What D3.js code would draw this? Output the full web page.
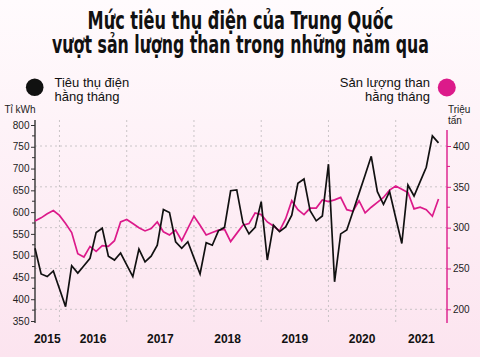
<!DOCTYPE html>
<html><head><meta charset="utf-8">
<script src="https://cdn.jsdelivr.net/npm/d3@7"></script>
<style>html,body{margin:0;padding:0;background:#fff;} svg{display:block;}</style>
</head><body>
<svg id="chart" width="480" height="357"></svg>
<script>
// ---- Data (monthly; Jan & Feb reported together) ----
const periods = [
  "8/2015","9/2015","10/2015","11/2015","12/2015",
  "1-2/2016","3/2016","4/2016","5/2016","6/2016","7/2016","8/2016","9/2016","10/2016","11/2016","12/2016",
  "1-2/2017","3/2017","4/2017","5/2017","6/2017","7/2017","8/2017","9/2017","10/2017","11/2017","12/2017",
  "1-2/2018","3/2018","4/2018","5/2018","6/2018","7/2018","8/2018","9/2018","10/2018","11/2018","12/2018",
  "1-2/2019","3/2019","4/2019","5/2019","6/2019","7/2019","8/2019","9/2019","10/2019","11/2019","12/2019",
  "1-2/2020","3/2020","4/2020","5/2020","6/2020","7/2020","8/2020","9/2020","10/2020","11/2020","12/2020",
  "1-2/2021","3/2021","4/2021","5/2021","6/2021","7/2021","8/2021"
];
// Power consumption, billion kWh (left axis)
const powerUse = [
  517,458,452,465,424,
  383,477,460,477,494,553,563,499,490,506,479,
  452,515,486,499,524,606,599,532,517,532,495,
  458,530,524,557,565,649,651,576,550,565,624,
  490,570,555,566,593,666,676,603,580,591,710,
  440,550,559,601,643,685,728,647,618,647,587,
  528,662,637,670,703,775,759
];
// Coal output, million tonnes (right axis)
const coalOutput = [
  308,312,317,321,315,
  305,294,268,264,277,271,278,277,284,307,310,
  305,300,296,299,307,295,291,297,284,299,314,
  303,291,294,297,298,283,293,303,305,318,316,
  307,302,296,311,333,322,316,324,324,334,332,
  334,337,322,320,333,318,325,331,337,346,351,
  347,343,323,325,322,314,335
];
const leftTicks = [350,400,450,500,550,600,650,700,750,800];
const leftMinor = [375,425,475,525,575,625,675,725,775];
const rightTicks = [200,250,300,350,400];
const rightMinor = [225,275,325,375];
const yearLabels = ["2015","2016","2017","2018","2019","2020","2021"];
const titleLines = ["Mức tiêu thụ điện của Trung Quốc","vượt sản lượng than trong những năm qua"];
const legendLeft = ["Tiêu thụ điện","hằng tháng"];
const legendRight = ["Sản lượng than","hằng tháng"];
const leftUnit = "Tỉ kWh";
const rightUnit = ["Triệu","tấn"];

// ---- Drawing ----
const W = 480, H = 357;
const PINK = "#dc1a8a", INK = "#111";
const svg = d3.select("#chart");
const defs = svg.append("defs");
const grad = defs.append("linearGradient").attr("id","bg").attr("x1",0).attr("y1",0).attr("x2",0).attr("y2",1);
grad.append("stop").attr("offset","0%").attr("stop-color","#fffbfd");
grad.append("stop").attr("offset","100%").attr("stop-color","#fce4ef");
svg.append("rect").attr("width",W).attr("height",H).attr("fill","url(#bg)");

const axL = 35, axR = 447, gTop = 120, gBot = 323;
const x = d3.scaleLinear().domain([0, periods.length - 1]).range([35, 438.5]);
const yL = d3.scaleLinear().domain([350, 800]).range([321, 125]);
const yR = d3.scaleLinear().domain([200, 400]).range([309.3, 146]);

const SANS = "'Liberation Sans', Arial, 'DejaVu Sans', sans-serif";

// Title: natural condensed bold text, squeezed horizontally to the reference widths
const titleWidths = [306, 377];
svg.append("g").selectAll("text").data(titleLines).join("text")
  .attr("text-anchor","middle")
  .attr("font-family","'Liberation Sans Narrow', 'DejaVu Sans Condensed', 'Roboto Condensed', sans-serif")
  .attr("font-weight","bold").attr("font-size", 24).attr("fill","#111")
  .text(d => d)
  .each(function(d,i){
    const w = this.getComputedTextLength() || titleWidths[i];
    const sx = titleWidths[i] / w;
    d3.select(this).attr("transform", `translate(240.5,${29 + i*23.5}) scale(${sx},1)`);
  });

// Legend
svg.append("circle").attr("cx",34.7).attr("cy",87.2).attr("r",8.8).attr("fill",INK);
svg.append("g").selectAll("text").data(legendLeft).join("text")
  .attr("x",54.5).attr("y",(d,i)=>87+i*13.5)
  .attr("font-family",SANS).attr("font-size",13).attr("fill","#111").text(d=>d);
svg.append("circle").attr("cx",446.8).attr("cy",87.5).attr("r",9).attr("fill",PINK);
svg.append("g").selectAll("text").data(legendRight).join("text")
  .attr("x",430).attr("y",(d,i)=>87+i*13.5).attr("text-anchor","end")
  .attr("font-family",SANS).attr("font-size",13).attr("fill","#111").text(d=>d);

// Unit labels
svg.append("text").attr("x",4.5).attr("y",113).attr("font-family",SANS)
  .attr("font-size",10).attr("fill","#222").text(leftUnit);
svg.append("g").selectAll("text").data(rightUnit).join("text")
  .attr("x",448).attr("y",(d,i)=>112.5+i*11).attr("font-family",SANS)
  .attr("font-size",10).attr("fill","#222").text(d=>d);

// Gridlines
const grid = svg.append("g").attr("stroke","#c4c0c2").attr("stroke-width",0.9).attr("stroke-dasharray","2,3");
grid.selectAll("line.h").data(rightTicks).join("line").attr("class","h")
  .attr("x1",axL).attr("x2",axR).attr("y1",d=>yR(d)).attr("y2",d=>yR(d));
const decIdx = periods.map((p,i)=>p.startsWith("12/") ? i : -1).filter(i=>i>=0);
grid.selectAll("line.v").data(decIdx).join("line").attr("class","v")
  .attr("x1",d=>x(d)).attr("x2",d=>x(d)).attr("y1",gTop).attr("y2",gBot);

// Left axis
const gL = svg.append("g").attr("transform",`translate(${axL},0)`)
  .call(d3.axisLeft(yL).tickValues(leftTicks).tickSize(4).tickPadding(1.5).tickSizeOuter(0));
gL.select(".domain").remove();
gL.selectAll(".tick line").attr("stroke","#333").attr("stroke-width",1);
gL.selectAll(".tick text").attr("font-family",SANS).attr("font-size",10).attr("fill","#222");
gL.append("g").selectAll("line").data(leftMinor).join("line")
  .attr("x1",-3).attr("x2",0).attr("y1",d=>yL(d)).attr("y2",d=>yL(d)).attr("stroke","#333");
gL.append("line").attr("x1",0).attr("x2",0).attr("y1",gTop).attr("y2",gBot)
  .attr("stroke","#333").attr("stroke-width",1.4);

// Right axis
const gR = svg.append("g").attr("transform",`translate(${axR},0)`)
  .call(d3.axisRight(yR).tickValues(rightTicks).tickSize(4).tickPadding(2).tickSizeOuter(0));
gR.select(".domain").remove();
gR.selectAll(".tick line").attr("stroke",PINK).attr("stroke-width",1);
gR.selectAll(".tick text").attr("font-family",SANS).attr("font-size",10).attr("fill","#222");
gR.append("g").selectAll("line").data(rightMinor).join("line")
  .attr("x1",0).attr("x2",3).attr("y1",d=>yR(d)).attr("y2",d=>yR(d)).attr("stroke",PINK);
gR.append("line").attr("x1",0).attr("x2",0).attr("y1",130).attr("y2",gBot)
  .attr("stroke",PINK).attr("stroke-width",1.4);

// Lines
svg.append("path").datum(coalOutput)
  .attr("d", d3.line().x((d,i)=>x(i)).y(d=>yR(d)))
  .attr("fill","none").attr("stroke",PINK).attr("stroke-width",1.7);
svg.append("path").datum(powerUse)
  .attr("d", d3.line().x((d,i)=>x(i)).y(d=>yL(d)))
  .attr("fill","none").attr("stroke",INK).attr("stroke-width",1.7);

// Year labels centred between boundaries
const bounds = [axL, ...decIdx.map(i=>x(i)), axR];
svg.append("g").selectAll("text").data(yearLabels).join("text")
  .attr("x",(d,i)=>(bounds[i]+bounds[i+1])/2).attr("y",342.5)
  .attr("text-anchor","middle").attr("font-family",SANS).attr("font-weight","bold")
  .attr("font-size",12).attr("fill","#111").text(d=>d);
</script>
</body></html>
